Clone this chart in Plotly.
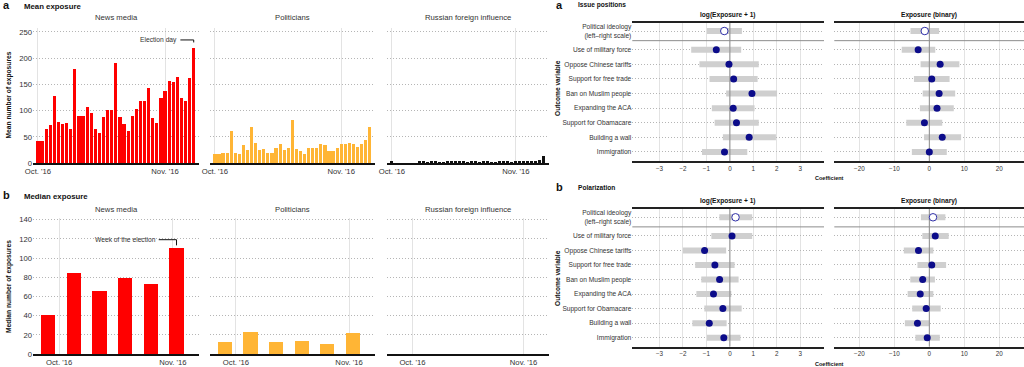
import plotly.graph_objects as go
import pandas as pd

W, H = 1024, 367
FONT = "Liberation Sans, Arial, Helvetica, sans-serif"
TXT = "#333333"

# ---------------- data ----------------
daily_dates = pd.date_range("2016-10-01", "2016-11-08", freq="D")
news_mean = [42, 42, 64, 72, 128, 78, 75, 77, 64, 179, 89, 89, 107, 95, 65, 57, 87, 102, 102, 190,
             88, 75, 61, 90, 104, 118, 119, 144, 86, 77, 124, 138, 156, 154, 164, 124, 119, 163, 220]
pol_mean = [17, 17, 19, 19, 62, 19, 17, 34, 24, 68, 39, 24, 26, 19, 20, 29, 36, 25, 29, 83,
            27, 23, 18, 29, 29, 29, 36, 35, 22, 23, 29, 36, 36, 39, 36, 31, 36, 43, 69]
rus_mean = [2, 0, 0, 0, 0, 0, 0, 3, 3, 1, 2, 2, 1, 1, 2, 3, 3, 3, 3, 1,
            2, 2, 1, 2, 2, 1, 1, 2, 2, 2, 1, 2, 2, 3, 3, 2, 4, 5, 13]

weekly_dates = pd.to_datetime(["2016-09-28", "2016-10-05", "2016-10-12",
                               "2016-10-19", "2016-10-26", "2016-11-02"])
news_median = [41, 84, 66, 79, 73, 110]
pol_median = [12, 23, 13, 14, 10, 22]
rus_median = [0, 0, 0, 0, 0, 0]

source_titles = ["News media", "Politicians", "Russian foreign influence"]
month_ticks = pd.to_datetime(["2016-10-01", "2016-11-01"])
month_labels = ["Oct. '16", "Nov. '16"]
mean_ticks = [0, 50, 100, 150, 200, 250]
median_ticks = [0, 20, 40, 60, 80, 100, 120, 140]

outcomes = ["Political ideology<br>(left\u2013right scale)", "Use of military force",
            "Oppose Chinese tariffs", "Support for free trade", "Ban on Muslim people",
            "Expanding the ACA", "Support for Obamacare", "Building a wall", "Immigration"]
row_pos = [8.28, 7, 6, 5, 4, 3, 2, 1, 0]

issue_log_est = [-0.24, -0.58, -0.04, 0.16, 0.94, 0.14, 0.28, 0.82, -0.23]
issue_log_lo = [-0.98, -1.65, -1.30, -0.87, -0.16, -0.77, -0.65, -0.30, -1.19]
issue_log_hi = [0.51, 0.48, 1.23, 1.18, 2.01, 1.05, 1.23, 1.96, 0.74]
issue_bin_est = [-1.3, -3.2, 3.1, 0.7, 2.8, 2.2, -1.4, 3.7, 0.0]
issue_bin_lo = [-5.4, -7.9, -2.5, -4.4, -1.9, -2.7, -6.6, -1.5, -5.0]
issue_bin_hi = [2.8, 1.7, 8.6, 5.8, 7.4, 7.0, 3.7, 9.1, 5.0]

polar_log_est = [0.24, 0.09, -1.08, -0.64, -0.44, -0.70, -0.30, -0.88, -0.26]
polar_log_lo = [-0.45, -0.79, -2.00, -1.48, -1.22, -1.43, -1.09, -1.60, -0.98]
polar_log_hi = [0.95, 0.95, -0.16, 0.20, 0.37, 0.06, 0.50, -0.14, 0.45]
polar_bin_est = [1.05, 1.7, -3.1, 0.7, -1.9, -2.6, -0.9, -3.4, -0.6]
polar_bin_lo = [-2.4, -2.0, -7.3, -3.4, -5.45, -6.2, -4.9, -7.0, -4.0]
polar_bin_hi = [4.6, 5.55, 1.15, 4.8, 1.6, 1.15, 3.25, 0.0, 3.0]

log_ticks = [-3, -2, -1, 0, 1, 2, 3]
bin_ticks = [-20, -10, 0, 10, 20]

# ---------------- styling ----------------
RED = "#FF0000"
ORANGE = "#FFB535"
BLACK = "#111111"
NAVY = "#0C0C8A"
CI_GRAY = "#CFCFCF"
DOT = "1px,2px"


def xd(x0, x1):
    return [x0 / W, x1 / W]


def yd(top, bot):
    return [1 - bot / H, 1 - top / H]


fig = go.Figure()
layout = dict(template="none", width=W, height=H,
              margin=dict(l=0, r=0, t=0, b=0, pad=0, autoexpand=False),
              paper_bgcolor="white", plot_bgcolor="white", showlegend=False,
              font=dict(family=FONT, color=TXT, size=7.7), bargap=0)

cols = [(33, 199), (210, 375), (387, 549)]
rows = [(28, 163), (218, 354)]
ranges_x = [["2016-09-29 19:00", "2016-11-09 07:00"], ["2016-09-23 21:00", "2016-11-08 03:00"]]
ranges_y = [[0, 257.6], [0, 141.7]]
yticks = [mean_ticks, median_ticks]
series = [[news_mean, pol_mean, rus_mean], [news_median, pol_median, rus_median]]
xs = [daily_dates, weekly_dates]
widths = [0.78 * 86400000, 3.9 * 86400000]
colors = [RED, ORANGE, BLACK]

annotations = []
shapes = []

for r in range(2):
    for c in range(3):
        n = r * 3 + c + 1
        sx = "" if n == 1 else str(n)
        layout["xaxis" + sx] = dict(
            type="date", domain=xd(*cols[c]), range=ranges_x[r], anchor="y" + sx,
            tickvals=month_ticks, ticktext=month_labels, showgrid=True, gridcolor="#E3E3E3",
            gridwidth=1, showline=True, linecolor=BLACK, linewidth=2, ticks="",
            zeroline=False, automargin=False, tickfont=dict(size=7.7, color=TXT),
            fixedrange=True)
        layout["yaxis" + sx] = dict(
            domain=yd(*rows[r]), range=ranges_y[r], anchor="x" + sx, tickvals=yticks[r],
            showticklabels=(c == 0), showgrid=True, griddash=DOT, gridcolor="#B5B5B5",
            gridwidth=1, zeroline=False, ticks="", showline=False, automargin=False,
            tickfont=dict(size=7.7, color=TXT), fixedrange=True)
        fig.add_trace(go.Bar(x=xs[r], y=series[r][c], width=widths[r],
                             marker=dict(color=colors[c], line=dict(width=0)),
                             xaxis="x" + sx, yaxis="y" + sx, hoverinfo="x+y"))
        annotations.append(dict(text=source_titles[c], xref="paper", yref="paper",
                                x=(cols[c][0] + cols[c][1]) / 2 / W,
                                y=1 - (17.5 if r == 0 else 209) / H,
                                xanchor="center", yanchor="middle", showarrow=False,
                                font=dict(size=7.7, color=TXT)))

# Election day bracket (top news panel)
day = pd.Timedelta(days=1)
last_d = daily_dates[-1]
last_v = news_mean[-1]
shapes.append(dict(type="line", xref="x", yref="y", x0=last_d - 3.25 * day, x1=last_d,
                   y0=last_v + 14.8, y1=last_v + 14.8, line=dict(color=BLACK, width=1)))
shapes.append(dict(type="line", xref="x", yref="y", x0=last_d, x1=last_d,
                   y0=last_v + 14.8, y1=last_v + 10.0, line=dict(color=BLACK, width=1)))
annotations.append(dict(text="Election day", xref="x", yref="y",
                        x=last_d - 3.55 * day, y=last_v + 14.8, xanchor="right",
                        yanchor="middle", showarrow=False, font=dict(size=6.7, color=TXT)))
# Week of the election bracket (bottom news panel)
wk_d = weekly_dates[-1]
wk_v = news_median[-1]
shapes.append(dict(type="line", xref="x4", yref="y4", x0=wk_d - 4.85 * day, x1=wk_d,
                   y0=wk_v + 9.1, y1=wk_v + 9.1, line=dict(color=BLACK, width=1)))
shapes.append(dict(type="line", xref="x4", yref="y4", x0=wk_d, x1=wk_d,
                   y0=wk_v + 9.1, y1=wk_v + 3.2, line=dict(color=BLACK, width=1)))
annotations.append(dict(text="Week of the election", xref="x4", yref="y4",
                        x=wk_d - 5.1 * day, y=wk_v + 9.1, xanchor="right",
                        yanchor="middle", showarrow=False, font=dict(size=6.7, color=TXT)))

# Section labels
labels = [
    dict(text="<b>a</b>", x=0.5, y=4.5, size=11),
    dict(text="<b>Mean exposure</b>", x=21.7, y=6, size=7.8),
    dict(text="<b>b</b>", x=0.5, y=195, size=11),
    dict(text="<b>Median exposure</b>", x=21.7, y=196, size=7.8),
    dict(text="<b>a</b>", x=554, y=4.5, size=11),
    dict(text="<b>Issue positions</b>", x=576, y=5.5, size=6.6),
    dict(text="<b>b</b>", x=554, y=187, size=11),
    dict(text="<b>Polarization</b>", x=576, y=187.5, size=6.6),
]
for lab in labels:
    annotations.append(dict(text=lab["text"], xref="paper", yref="paper", x=lab["x"] / W,
                            y=1 - lab["y"] / H, xanchor="left", yanchor="middle",
                            showarrow=False, font=dict(size=lab["size"], color="#111")))
for txt, yc in [("Mean number of exposures", 95), ("Median number of exposures", 286.5)]:
    annotations.append(dict(text=f"<b>{txt}</b>", xref="paper", yref="paper", x=8.5 / W,
                            y=1 - yc / H, xanchor="center", yanchor="middle", textangle=-90,
                            showarrow=False, font=dict(size=6.7, color="#111")))

# ---------------- coefficient panels ----------------
rcols = [(632.3, 824), (834.3, 1024)]
rrows = [(22.7, 161), (209, 346.7)]
rranges = [[-4.16, 4.01], [-27.2, 27.1]]
rticks = [log_ticks, bin_ticks]
YR = [-0.62, 8.85]
coef = [
    [(issue_log_est, issue_log_lo, issue_log_hi), (issue_bin_est, issue_bin_lo, issue_bin_hi)],
    [(polar_log_est, polar_log_lo, polar_log_hi), (polar_bin_est, polar_bin_lo, polar_bin_hi)],
]
panel_names = ["log(Exposure + 1)", "Exposure (binary)"]
sep_y = (row_pos[0] + row_pos[1]) / 2 - 0.02

for r in range(2):
    for c in range(2):
        n = 7 + r * 2 + c
        sx = str(n)
        layout["xaxis" + sx] = dict(
            domain=xd(*rcols[c]), range=rranges[c], anchor="y" + sx, tickvals=rticks[c],
            showgrid=True, gridcolor="#E3E3E3", gridwidth=1, showline=True, mirror=True,
            linecolor="#222", linewidth=2, ticks="", zeroline=False, automargin=False,
            tickfont=dict(size=6.3, color=TXT), fixedrange=True)
        layout["yaxis" + sx] = dict(
            domain=yd(*rrows[r]), range=YR, anchor="x" + sx, tickvals=row_pos,
            ticktext=outcomes, showticklabels=(c == 0), showgrid=True, griddash=DOT,
            gridcolor="#B5B5B5", gridwidth=1, zeroline=False, ticks="", showline=False,
            automargin=False, tickfont=dict(size=6.6, color=TXT), fixedrange=True)
        est, lo, hi = coef[r][c]
        seg_x, seg_y = [], []
        for a, b, yv in zip(lo, hi, row_pos):
            seg_x += [a, b, None]
            seg_y += [yv, yv, None]
        fig.add_trace(go.Scatter(x=seg_x, y=seg_y, mode="lines",
                                 line=dict(color=CI_GRAY, width=6), xaxis="x" + sx,
                                 yaxis="y" + sx, hoverinfo="skip"))
        fig.add_trace(go.Scatter(x=[0, 0], y=YR, mode="lines",
                                 line=dict(color="#8C8C8C", width=1), xaxis="x" + sx,
                                 yaxis="y" + sx, hoverinfo="skip"))
        fig.add_trace(go.Scatter(x=est[1:], y=row_pos[1:], mode="markers",
                                 marker=dict(color=NAVY, size=7, line=dict(width=0)),
                                 xaxis="x" + sx, yaxis="y" + sx))
        fig.add_trace(go.Scatter(x=est[:1], y=row_pos[:1], mode="markers",
                                 marker=dict(color="white", size=7.5,
                                             line=dict(width=1, color="#3030A8")),
                                 xaxis="x" + sx, yaxis="y" + sx))
        shapes.append(dict(type="line", xref="x" + sx + " domain", yref="y" + sx,
                           x0=0, x1=1, y0=sep_y, y1=sep_y,
                           line=dict(color="#8C8C8C", width=1)))
        annotations.append(dict(text=f"<b>{panel_names[c]}</b>", xref="paper", yref="paper",
                                x=(rcols[c][0] + rcols[c][1]) / 2 / W,
                                y=1 - (15 if r == 0 else 201) / H, xanchor="center",
                                yanchor="middle", showarrow=False,
                                font=dict(size=6.6, color="#111")))
    annotations.append(dict(text="<b>Coefficient</b>", xref="paper", yref="paper",
                            x=829 / W, y=1 - (177.7 if r == 0 else 363.5) / H,
                            xanchor="center", yanchor="middle", showarrow=False,
                            font=dict(size=5.5, color="#111")))
    annotations.append(dict(text="<b>Outcome variable</b>", xref="paper", yref="paper",
                            x=557 / W, y=1 - (88 if r == 0 else 278) / H,
                            xanchor="center", yanchor="middle", textangle=-90,
                            showarrow=False, font=dict(size=6.6, color="#111")))

layout["annotations"] = annotations
layout["shapes"] = shapes
fig.update_layout(**layout)
fig.write_html("out.html", config={"displayModeBar": False},
               post_script="document.body.style.margin='0';"
                           "document.body.style.overflow='hidden';")
